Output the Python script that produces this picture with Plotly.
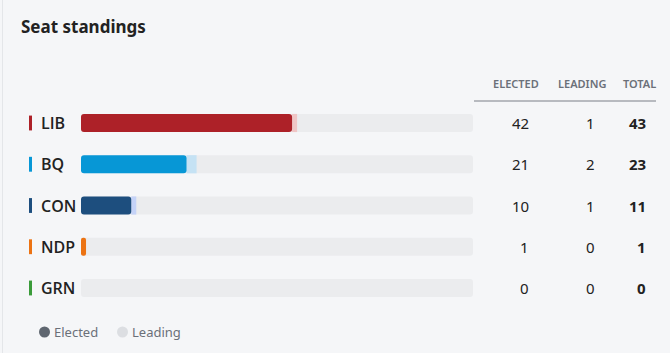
import plotly.graph_objects as go

parties = ["LIB", "BQ", "CON", "NDP", "GRN"]
elected = [42, 21, 10, 1, 0]
leading = [1, 2, 1, 0, 0]
total = [43, 23, 11, 1, 0]
total_seats = 78
colors = ["#ad2128", "#0797d6", "#1d4e7e", "#ec7313", "#3a9b3a"]
lead_colors = ["#f0c6c6", "#c5e2f4", "#c5d3f8", "#f8d5b8", "#c8e6c8"]
headers = ["ELECTED", "LEADING", "TOTAL"]

W, H = 670, 353
BG = "#f5f6f8"
FONT = "Noto Sans"
LABEL_FONT = "Open Sans"

def px(x):
    return x / W

def py(y):
    return 1 - y / H

# rows: index 0 at pixel 123, spacing 41.25
row0, step = 123, 41.25
yr = [(H - row0) / step, (0 - row0) / step]

fig = go.Figure()
idx = list(range(len(parties)))

fig.add_trace(go.Bar(y=idx, x=[total_seats] * len(parties), base=0, orientation="h",
                     marker=dict(color="#ebecee", cornerradius=3, line_width=0),
                     width=0.44, hoverinfo="skip", showlegend=False))
fig.add_trace(go.Bar(y=idx, x=leading, base=elected, orientation="h",
                     marker=dict(color=lead_colors, line_width=0),
                     width=0.44, showlegend=False))
fig.add_trace(go.Bar(y=idx, x=elected, base=0, orientation="h",
                     marker=dict(color=colors, cornerradius=3, line_width=0),
                     width=0.44, showlegend=False))

shapes = []
annotations = []
for i, p in enumerate(parties):
    shapes.append(dict(type="rect", xref="paper", yref="y", x0=px(29), x1=px(32),
                       y0=i - 0.18, y1=i + 0.18, fillcolor=colors[i], line_width=0))
    annotations.append(dict(xref="paper", yref="y", x=px(39), y=i, text=p,
                            xanchor="left", yanchor="middle", showarrow=False,
                            font=dict(family=LABEL_FONT, size=16, color="#222222", weight=600)))
    for xr, val, bold in [(531, elected[i], False), (597, leading[i], False), (648, total[i], True)]:
        annotations.append(dict(xref="paper", yref="y", x=px(xr), y=i, text=str(val),
                                xanchor="right", yanchor="middle", showarrow=False,
                                font=dict(family=FONT, size=15, color="#222222",
                                          weight=700 if bold else 400)))

for h, xc in zip(headers, [515.5, 581.5, 639.5]):
    annotations.append(dict(xref="paper", yref="paper", x=px(xc), y=py(83), text=h,
                            xanchor="center", yanchor="middle", showarrow=False,
                            font=dict(family=FONT, size=11, color="#6b7079", weight=600)))

# header underline
shapes.append(dict(type="line", xref="paper", yref="paper", x0=px(474), x1=px(656),
                   y0=py(101), y1=py(101), line=dict(color="#7a7f87", width=1)))
# card left border
shapes.append(dict(type="line", xref="paper", yref="paper", x0=px(2.5), x1=px(2.5),
                   y0=0, y1=1, line=dict(color="#e4e6e9", width=1)))

# legend
shapes.append(dict(type="circle", xref="paper", yref="paper", x0=px(39), x1=px(50),
                   y0=py(337.5), y1=py(326.5), fillcolor="#5f6670", line_width=0))
shapes.append(dict(type="circle", xref="paper", yref="paper", x0=px(117), x1=px(128),
                   y0=py(337.5), y1=py(326.5), fillcolor="#dcdee2", line_width=0))
annotations.append(dict(xref="paper", yref="paper", x=px(52), y=py(332), text="Elected",
                        xanchor="left", yanchor="middle", showarrow=False,
                        font=dict(family=FONT, size=13, color="#6b7079")))
annotations.append(dict(xref="paper", yref="paper", x=px(130), y=py(332), text="Leading",
                        xanchor="left", yanchor="middle", showarrow=False,
                        font=dict(family=FONT, size=13, color="#6b7079")))

fig.update_layout(
    width=W, height=H,
    margin=dict(l=0, r=0, t=0, b=0),
    paper_bgcolor=BG, plot_bgcolor=BG,
    barmode="overlay",
    title=dict(text="Seat standings", x=px(21), xanchor="left", y=py(27), yanchor="middle",
               xref="paper", yref="paper",
               font=dict(family=FONT, size=17, color="#222222", weight=700)),
    xaxis=dict(domain=[px(81), px(473)], range=[0, total_seats], visible=False, fixedrange=True),
    yaxis=dict(domain=[0, 1], range=yr, visible=False, fixedrange=True),
    shapes=shapes, annotations=annotations,
    showlegend=False,
)

fig.write_html("out.html")
